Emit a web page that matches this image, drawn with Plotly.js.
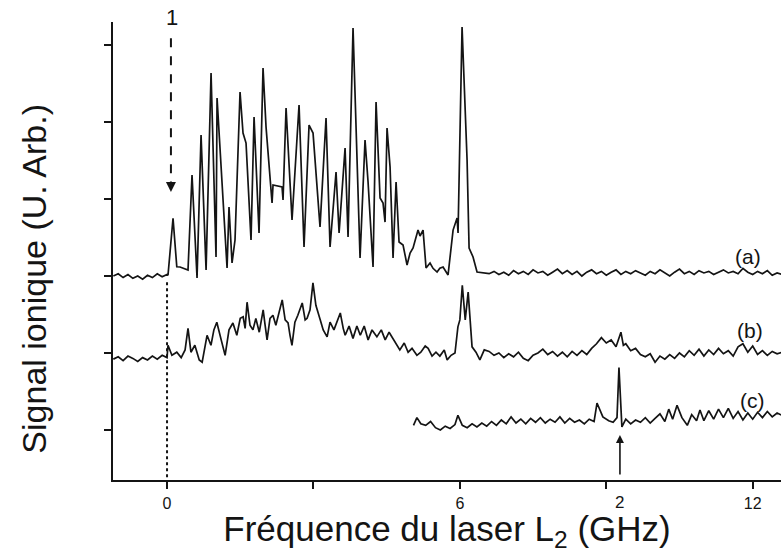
<!DOCTYPE html>
<html>
<head>
<meta charset="utf-8">
<script src="https://cdn.plot.ly/plotly-3.0.1.min.js"></script>
<style>html,body{margin:0;padding:0;background:#fff;}#chart{width:781px;height:553px;}</style>
</head>
<body>
<div id="chart"></div>
<script>
// ---- Spectrum (a) : frequency (GHz) and ion signal (arb. units, offset) ----
const xA = [-1.1,-1.0,-0.9,-0.8,-0.7,-0.6,-0.5,-0.4,-0.3,-0.2,-0.1,0.0,0.02,
  0.123,0.2,0.266,0.43,0.512,0.615,0.697,0.80,0.902,1.004,1.025,1.23,1.27,1.332,1.393,1.496,1.557,1.619,1.721,1.783,1.885,1.967,2.029,2.152,2.172,2.357,2.377,2.439,2.561,2.705,2.807,2.910,2.992,3.135,3.258,3.340,3.463,3.525,3.648,3.709,3.811,3.955,4.057,4.119,4.221,4.283,4.365,4.426,4.467,4.508,4.570,4.631,4.693,4.754,4.836,4.918,4.980,5.041,5.143,5.184,5.246,5.307,5.389,5.45,5.533,5.59,5.656,5.758,5.861,5.943,5.963,6.045,6.148,6.189,6.270,6.352,6.475,
  6.6,6.7,6.8,6.9,7.0,7.1,7.2,7.3,7.4,7.5,7.6,7.7,7.8,7.9,8.0,8.1,8.2,8.3,8.4,8.5,8.6,8.7,8.8,8.9,9.0,9.1,9.2,9.3,9.4,9.5,9.6,9.7,9.8,9.9,10.0,10.1,10.2,10.3,10.4,10.5,10.6,10.7,10.8,10.9,11.0,11.1,11.2,11.3,11.4,11.5,11.6,11.7,11.8,11.9,12.0,12.1,12.2,12.3,12.4,12.5,12.6];
const yA = [2.0,2.03,1.98,2.02,1.97,2.0,1.96,2.01,1.98,2.03,1.99,2.02,2.01,
  2.75,2.12,2.117,2.078,3.312,1.974,3.831,2.078,4.636,2.247,4.312,2.104,2.896,2.169,2.468,4.390,3.857,3.727,2.468,4.065,2.558,4.701,3.935,2.948,3.182,3.156,2.987,4.182,2.727,4.221,2.377,3.961,3.857,2.636,4.052,2.377,3.351,2.558,3.662,2.506,5.221,2.234,3.766,3.221,2.117,4.260,3.013,2.948,2.701,3.922,3.416,2.234,3.221,2.442,2.403,2.143,2.299,2.364,2.597,2.52,2.597,2.104,2.169,2.10,2.052,2.10,2.117,2.013,2.597,2.753,2.558,5.234,3.506,2.364,2.247,2.052,2.039,
  2.03,2.06,2.02,2.05,2.01,2.07,2.03,2.06,2.02,2.08,2.04,2.06,2.01,2.05,2.09,2.03,2.07,2.02,2.06,2.00,2.05,2.08,2.03,2.06,2.01,2.05,2.08,2.02,2.06,2.03,2.07,2.04,2.01,2.06,2.03,2.08,2.04,2.00,2.05,2.09,2.03,2.06,2.02,2.07,2.04,2.06,2.02,2.05,2.08,2.04,2.06,2.03,2.10,2.05,2.02,2.06,2.03,2.07,2.01,2.04,2.02];

// ---- Spectrum (b) ----
const xB = [-1.1,-1.0,-0.9,-0.8,-0.7,-0.6,-0.5,-0.4,-0.3,-0.2,-0.1,0.0,
  0.02,0.10,0.20,0.29,0.37,0.43,0.49,0.57,0.66,0.72,0.82,0.90,0.96,1.02,1.11,1.19,1.27,1.35,1.43,1.50,1.56,1.60,1.64,1.70,1.76,1.82,1.89,1.97,2.01,2.05,2.11,2.17,2.23,2.30,2.36,2.42,2.48,2.52,2.56,2.62,2.68,2.77,2.83,2.87,2.93,2.99,3.05,3.14,3.20,3.28,3.34,3.42,3.48,3.55,3.61,3.65,3.73,3.81,3.89,3.96,4.04,4.12,4.20,4.30,4.39,4.47,4.55,4.63,4.71,4.77,4.86,4.94,5.02,5.12,5.20,5.29,5.35,5.43,5.51,5.59,5.68,5.74,5.82,5.90,5.96,6.00,6.05,6.11,6.17,6.21,6.25,6.33,6.41,6.50,
  6.6,6.7,6.8,6.9,7.0,7.1,7.2,7.3,7.4,7.5,7.6,7.7,7.8,7.9,8.0,8.1,8.2,8.3,8.4,8.5,8.6,8.7,8.8,8.9,9.0,9.1,9.2,9.3,9.35,9.4,9.5,9.6,9.7,9.8,9.9,10.0,10.1,10.2,10.3,10.4,10.5,10.6,10.7,10.8,10.9,11.0,11.1,11.2,11.3,11.4,11.5,11.6,11.7,11.8,11.9,12.0,12.1,12.2,12.3,12.4,12.5,12.6];
const yB = [0.92,0.95,0.90,0.96,0.93,0.89,0.94,0.91,0.96,0.92,0.97,0.94,
  1.10,0.97,1.01,0.94,1.04,1.32,1.01,1.10,0.91,0.88,1.23,1.10,1.30,1.40,1.17,0.97,1.30,1.39,1.23,1.45,1.47,1.32,1.66,1.36,1.30,1.45,1.27,1.56,1.36,1.17,1.45,1.49,1.36,1.53,1.69,1.43,1.39,1.23,1.10,1.40,1.49,1.65,1.43,1.45,1.56,1.91,1.62,1.43,1.30,1.21,1.40,1.30,1.40,1.52,1.32,1.23,1.35,1.19,1.35,1.23,1.35,1.17,1.30,1.21,1.30,1.17,1.27,1.19,1.10,1.04,1.13,1.01,1.06,0.97,1.01,1.09,1.06,0.96,1.01,0.96,1.04,0.91,0.97,1.00,1.34,1.43,1.88,1.43,1.79,1.43,1.08,1.01,0.91,1.04,
  1.02,0.97,1.00,0.94,0.99,0.95,1.01,0.93,0.90,0.97,1.00,1.05,0.98,1.02,0.96,1.01,0.95,1.02,0.97,1.03,0.98,1.06,1.12,1.20,1.13,1.17,1.08,1.27,1.10,1.12,1.03,1.06,0.98,0.95,0.99,0.88,0.96,0.92,0.98,0.93,1.00,0.95,1.03,0.97,1.05,0.96,1.04,0.98,1.06,0.99,1.03,0.96,1.08,1.12,1.01,1.09,0.98,1.03,0.97,1.02,0.99,1.01];

// ---- Spectrum (c) ----
const xC = [5.05,5.12,5.2,5.3,5.4,5.5,5.6,5.7,5.8,5.9,5.96,6.05,6.15,6.25,6.35,6.45,6.55,6.65,6.75,6.85,6.95,7.05,7.15,7.25,7.35,7.45,7.55,7.65,7.75,7.85,7.95,8.05,8.15,8.25,8.35,8.45,8.55,8.65,8.75,8.81,8.93,9.05,9.14,9.22,9.26,9.32,9.4,9.5,9.6,9.7,9.8,9.9,10.0,10.1,10.2,10.28,10.36,10.45,10.55,10.66,10.75,10.85,10.92,11.0,11.1,11.2,11.3,11.4,11.5,11.6,11.7,11.8,11.9,12.0,12.1,12.2,12.3,12.4,12.5,12.6];
const yC = [0.06,0.16,0.08,0.06,0.11,0.03,0.00,0.05,0.02,0.07,0.19,0.06,0.03,0.08,0.04,0.09,0.05,0.11,0.06,0.13,0.08,0.17,0.09,0.14,0.08,0.15,0.10,0.16,0.09,0.14,0.10,0.17,0.09,0.15,0.10,0.13,0.08,0.14,0.11,0.35,0.17,0.12,0.10,0.16,0.81,0.04,0.14,0.08,0.13,0.10,0.16,0.09,0.15,0.21,0.11,0.27,0.14,0.32,0.16,0.06,0.20,0.12,0.26,0.12,0.25,0.14,0.27,0.16,0.28,0.15,0.24,0.13,0.22,0.14,0.23,0.16,0.24,0.17,0.22,0.19];

// ---- Axis ticks and labels ----
const xTickVals = [0, 3, 6, 9, 12];
const xTickText = ['0', '', '6', '', '12'];
const yTickVals = [0, 1, 2, 3, 4, 5];
const curveLabels = ['(a)', '(b)', '(c)'];
const curveLabelX = [11.9, 11.95, 12.0];
const curveLabelY = [2.26, 1.29, 0.38];
const line1X = 0.08, line1Top = 5.09, line1Tip = 3.09;   // dashed arrow marking line 1
const line2X = 9.28, line2Tip = -0.065;                  // arrow marking line 2

const ink = '#141414';
const font = 'Liberation Sans, Arial, Helvetica, sans-serif';
const lineStyle = {color: ink, width: 1.7};

const traces = [
  {x: xA, y: yA, name: '(a)', mode: 'lines', line: lineStyle, hoverinfo: 'x+y'},
  {x: xB, y: yB, name: '(b)', mode: 'lines', line: lineStyle, hoverinfo: 'x+y'},
  {x: xC, y: yC, name: '(c)', mode: 'lines', line: lineStyle, hoverinfo: 'x+y'}
];

const annotations = curveLabels.map((t, i) => ({
  x: curveLabelX[i], y: curveLabelY[i], text: t, showarrow: false,
  font: {family: font, size: 21, color: ink}, xanchor: 'center', yanchor: 'middle'
}));
annotations.push(
  {x: line1X + 0.02, yref: 'paper', y: 1.009, text: '1', showarrow: false, font: {family: font, size: 22, color: ink}, yanchor: 'middle'},
  {x: line1X, y: line1Tip, ax: 0, ay: -12, text: '', showarrow: true, arrowhead: 2, arrowsize: 1, arrowwidth: 2, arrowcolor: ink},
  {x: line2X, y: line2Tip, ax: 0, ay: 41, text: '', showarrow: true, arrowhead: 2, arrowsize: 1, arrowwidth: 1.6, arrowcolor: ink},
  {x: line2X, yref: 'paper', y: -0.05, text: '2', showarrow: false, font: {family: font, size: 17, color: ink}, yanchor: 'middle'},
  {xref: 'paper', yref: 'paper', x: -0.118, y: 0.44, text: 'Signal ionique (U. Arb.)', textangle: -90,
   showarrow: false, xanchor: 'center', yanchor: 'middle', font: {family: font, size: 34, color: ink}}
);

const shapes = [
  {type: 'line', x0: line1X, x1: line1X, y0: line1Top, y1: line1Tip + 0.12, line: {color: ink, width: 2, dash: 'dash'}},
  {type: 'line', x0: 0, x1: 0, y0: 1.92, y1: -0.65, line: {color: ink, width: 2, dash: 'dot'}}
];

const layout = {
  width: 781, height: 553,
  margin: {l: 113, r: 0, t: 22, b: 73},
  paper_bgcolor: '#fff', plot_bgcolor: '#fff',
  showlegend: false,
  font: {family: font, color: ink},
  xaxis: {
    range: [-1.107, 12.58], showgrid: false, zeroline: false,
    showline: true, linecolor: ink, linewidth: 2,
    ticks: 'outside', ticklen: 7, tickwidth: 2, tickcolor: ink,
    tickvals: xTickVals, ticktext: xTickText, ticklabelstandoff: 1,
    tickfont: {family: font, size: 16, color: ink},
    title: {text: 'Fréquence du laser L<sub>2</sub> (GHz)', font: {family: font, size: 35, color: ink}, standoff: 7}
  },
  yaxis: {
    range: [-0.65, 5.30], showgrid: false, zeroline: false,
    showline: true, linecolor: ink, linewidth: 2,
    ticks: 'outside', ticklen: 7, tickwidth: 2, tickcolor: ink,
    tickvals: yTickVals, showticklabels: false
  },
  annotations: annotations,
  shapes: shapes
};

Plotly.newPlot('chart', traces, layout, {displayModeBar: false, staticPlot: true});
</script>
</body>
</html>
